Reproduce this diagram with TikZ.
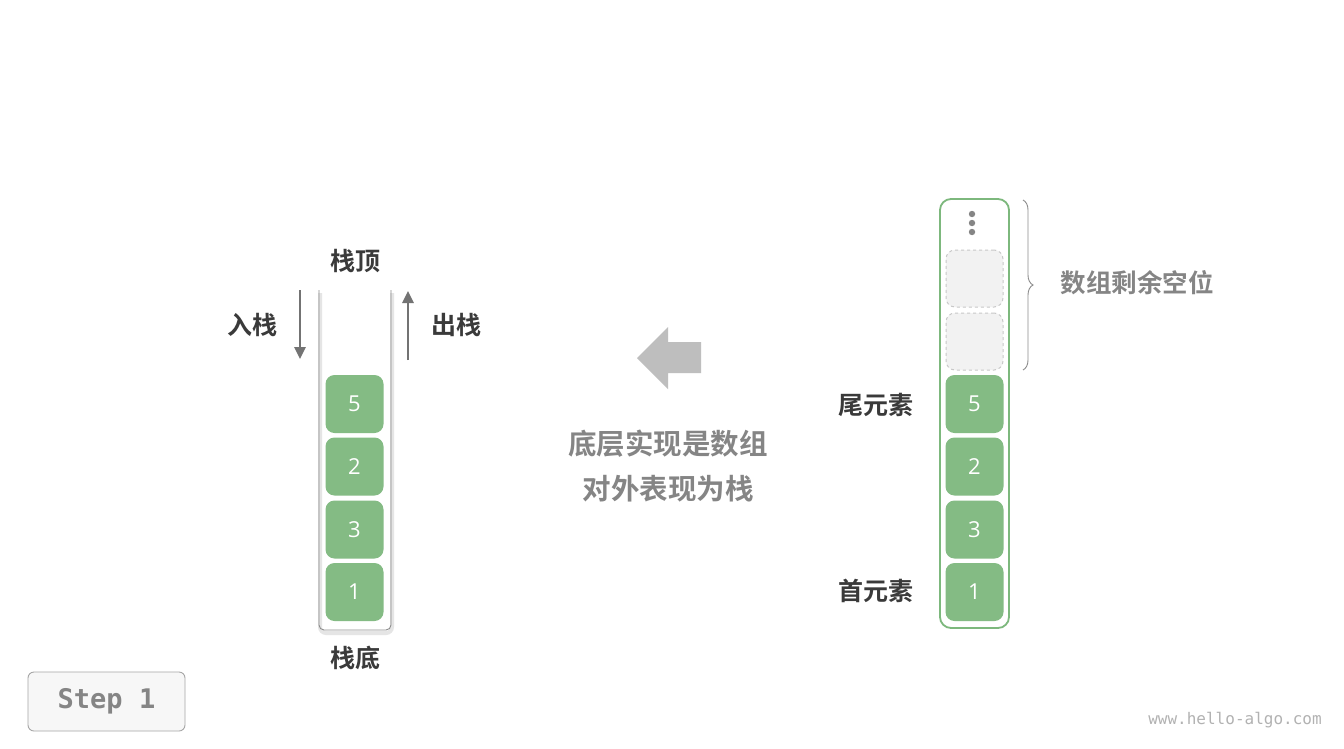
\documentclass[tikz,border=0pt]{standalone}
\usepackage{fontspec}
\setmainfont{Open Sans}
\newfontfamily\cjk{Noto Sans CJK SC}[BoldFont={* Bold}]
\newfontfamily\monof{DejaVu Sans Mono}
\usetikzlibrary{decorations.pathreplacing,arrows.meta}
\definecolor{boxgreen}{HTML}{84BB84}
\definecolor{rimgreen}{HTML}{7DB87D}
\definecolor{darktext}{HTML}{3A3A3A}
\definecolor{graytext}{HTML}{858585}
\definecolor{emptyfill}{HTML}{F2F2F2}
\definecolor{emptyline}{HTML}{C8C8C8}
\definecolor{bigarrow}{HTML}{BEBEBE}
\begin{document}
\begin{tikzpicture}[x=1pt,y=-1pt,
  elem/.style={draw=none,fill=boxgreen,rounded corners=9pt,minimum width=58pt,minimum height=58pt,text=white,font=\fontsize{22}{22}\selectfont,inner sep=0pt},
  emptyelem/.style={draw=emptyline,dashed,line width=1pt,fill=emptyfill,rounded corners=9pt,minimum width=57pt,minimum height=57pt,inner sep=0pt},
  lbl/.style={font=\cjk\bfseries\fontsize{25}{25}\selectfont,text=darktext,inner sep=0pt},
  glbl/.style={font=\cjk\bfseries\fontsize{28.5}{45}\selectfont,text=graytext,inner sep=0pt,align=center},
  flow/.style={draw=black!55,line width=2.6pt,-{Triangle[length=12pt,width=11pt]}}]
\useasboundingbox (0,0) rectangle (1344,748);
\fill[white] (0,0) rectangle (1344,748);

% ---- left stack container ----
\draw[black!10,line width=4pt,rounded corners=6pt] (320,293) -- (320,633) -- (392,633) -- (392,293);
\draw[black!45,line width=0.9pt,rounded corners=5pt] (319,290) -- (319,630) -- (391,630) -- (391,290);

\node[elem] (s5) at (354.5,404) {5};
\node[elem] (s2) at (354.5,466.5) {2};
\node[elem] (s3) at (354.5,529.5) {3};
\node[elem] (s1) at (354.5,592) {1};

\node[lbl] (top) at (355,261) {栈顶};
\node[lbl] (bot) at (355,658) {栈底};
\node[lbl] (push) at (252,325) {入栈};
\node[lbl] (pop) at (456,325) {出栈};

\coordinate (pushA) at (300,290);
\coordinate (pushB) at (300,359);
\coordinate (popA) at (408,360);
\coordinate (popB) at (408,291);
\draw[flow] (pushA) -- (pushB);
\draw[flow] (popA) -- (popB);

% ---- big arrow ----
\fill[bigarrow] (637,358) -- (668,327) -- (668,342) -- (701,342) -- (701,373) -- (668,373) -- (668,389) -- cycle;
\node[glbl] (mid) at (668,466.5) {底层实现是数组\\对外表现为栈};

% ---- right array ----
\node[draw=rimgreen,line width=1.8pt,rounded corners=11pt,minimum width=69pt,minimum height=429pt,inner sep=0pt] (arr) at (974.5,413.5) {};
\fill[graytext] (972,214) circle (3.2pt) (972,223) circle (3.2pt) (972,232) circle (3.2pt);
\node[emptyelem] (e2) at (974.5,278.5) {};
\node[emptyelem] (e1) at (974.5,341.5) {};
\node[elem] (a5) at (974.5,404) {5};
\node[elem] (a2) at (974.5,466.5) {2};
\node[elem] (a3) at (974.5,529.5) {3};
\node[elem] (a1) at (974.5,592) {1};

\node[lbl] (tail) at (876,405) {尾元素};
\node[lbl] (head) at (876,591) {首元素};

\coordinate (brA) at (1023,200);
\coordinate (brB) at (1023,370);
\draw[black!45,line width=0.9pt,decorate,decoration={brace,amplitude=10pt,raise=0pt}] (brA) -- (brB);
\node[glbl,font=\cjk\bfseries\fontsize{25.5}{25}\selectfont] (spare) at (1137,283) {数组剩余空位};

% ---- step box ----
\node[draw=black!35,line width=0.9pt,fill=black!3,rounded corners=6pt,minimum width=157pt,minimum height=59pt,inner sep=0pt,text=graytext,font=\monof\bfseries\fontsize{27}{27}\selectfont] (step1) at (106.5,701.5) {Step 1};

\node[text=black!30,font=\monof\fontsize{16}{16}\selectfont,inner sep=0pt] (url) at (1235,720) {www.hello-algo.com};
\end{tikzpicture}
\end{document}
